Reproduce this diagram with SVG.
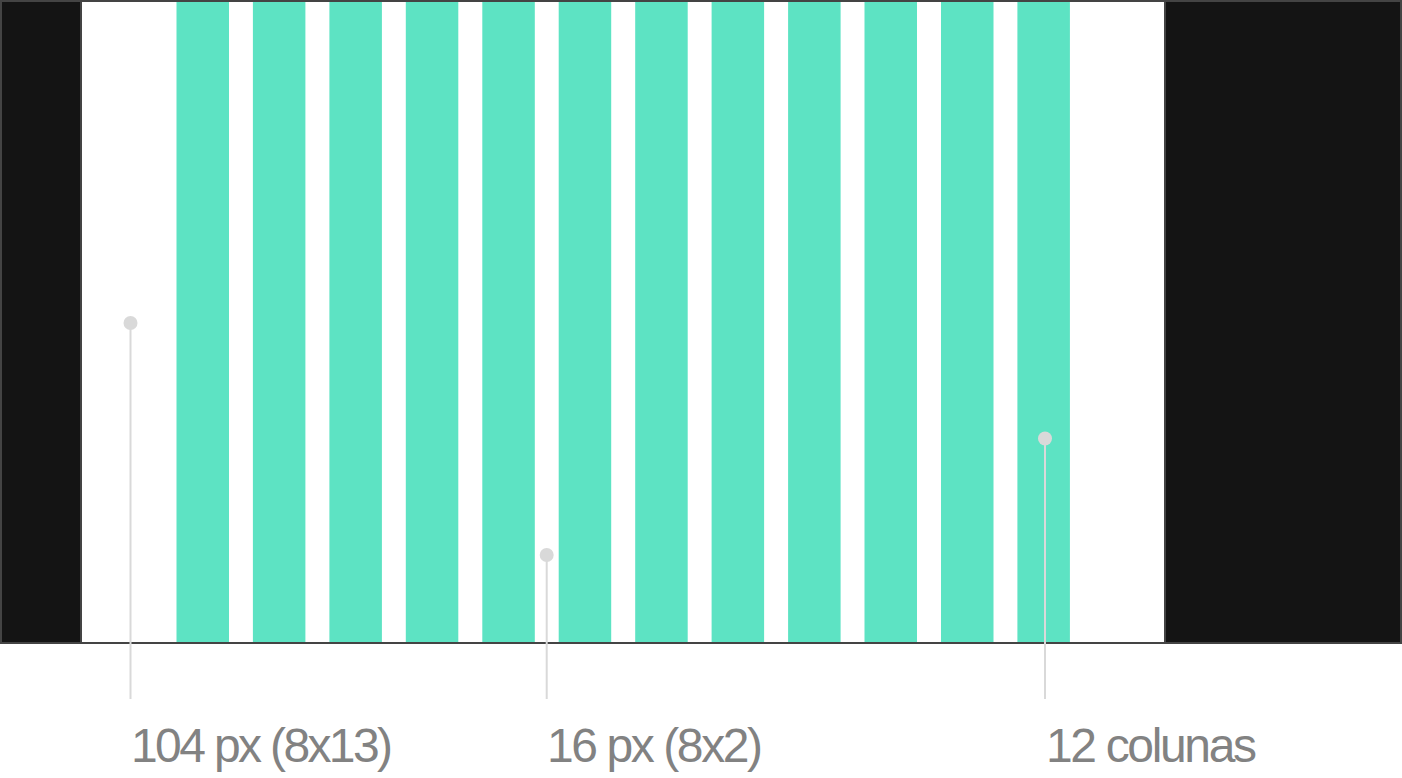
<svg xmlns="http://www.w3.org/2000/svg" width="1402" height="778" viewBox="0 0 1402 778">
  <style>
    .panel { fill: #141414; }
    .col { fill: #5de3c3; }
    .divider { fill: #444444; }
    .leader { stroke: #d9d9d9; stroke-width: 2; fill: none; }
    .dot { fill: #d9d9d9; }
    .label { font-family: "Liberation Sans", Arial, sans-serif; font-size: 48px; fill: #828282; }
  </style>
  <rect width="1402" height="778" fill="#ffffff"/>
  <g id="frame">
    <rect x="1" y="1" width="1400" height="642" fill="#ffffff" stroke="#444444" stroke-width="2"/>
    <rect class="panel" x="2" y="2" width="78" height="640"/>
    <rect class="divider" x="80" y="2" width="2" height="640"/>
    <rect class="panel" x="1166" y="2" width="234" height="640"/>
    <rect class="divider" x="1164" y="2" width="2" height="640"/>
  </g>
  <g id="columns">
    <rect class="col" x="176.5" y="2" width="52.5" height="640"/>
    <rect class="col" x="252.9" y="2" width="52.5" height="640"/>
    <rect class="col" x="329.4" y="2" width="52.5" height="640"/>
    <rect class="col" x="405.8" y="2" width="52.5" height="640"/>
    <rect class="col" x="482.3" y="2" width="52.5" height="640"/>
    <rect class="col" x="558.7" y="2" width="52.5" height="640"/>
    <rect class="col" x="635.2" y="2" width="52.5" height="640"/>
    <rect class="col" x="711.6" y="2" width="52.5" height="640"/>
    <rect class="col" x="788.1" y="2" width="52.5" height="640"/>
    <rect class="col" x="864.5" y="2" width="52.5" height="640"/>
    <rect class="col" x="941.0" y="2" width="52.5" height="640"/>
    <rect class="col" x="1017.4" y="2" width="52.5" height="640"/>
  </g>
  <g id="connectors">
    <line class="leader" x1="130.5" y1="323" x2="130.5" y2="699"/>
    <line class="leader" x1="546.7" y1="555" x2="546.7" y2="699"/>
    <line class="leader" x1="1045" y1="439" x2="1045" y2="699"/>
  </g>
  <g id="label-margin">
    <circle class="dot" cx="130.5" cy="323" r="7"/>
    <text class="label" x="131" y="762" textLength="262" lengthAdjust="spacing">104 px (8x13)</text>
  </g>
  <g id="label-gutter">
    <circle class="dot" cx="546.7" cy="555" r="7"/>
    <text class="label" x="547" y="762" textLength="216" lengthAdjust="spacing">16 px (8x2)</text>
  </g>
  <g id="label-columns">
    <circle class="dot" cx="1045" cy="438.5" r="7"/>
    <text class="label" x="1046" y="762" textLength="211" lengthAdjust="spacing">12 colunas</text>
  </g>
</svg>
